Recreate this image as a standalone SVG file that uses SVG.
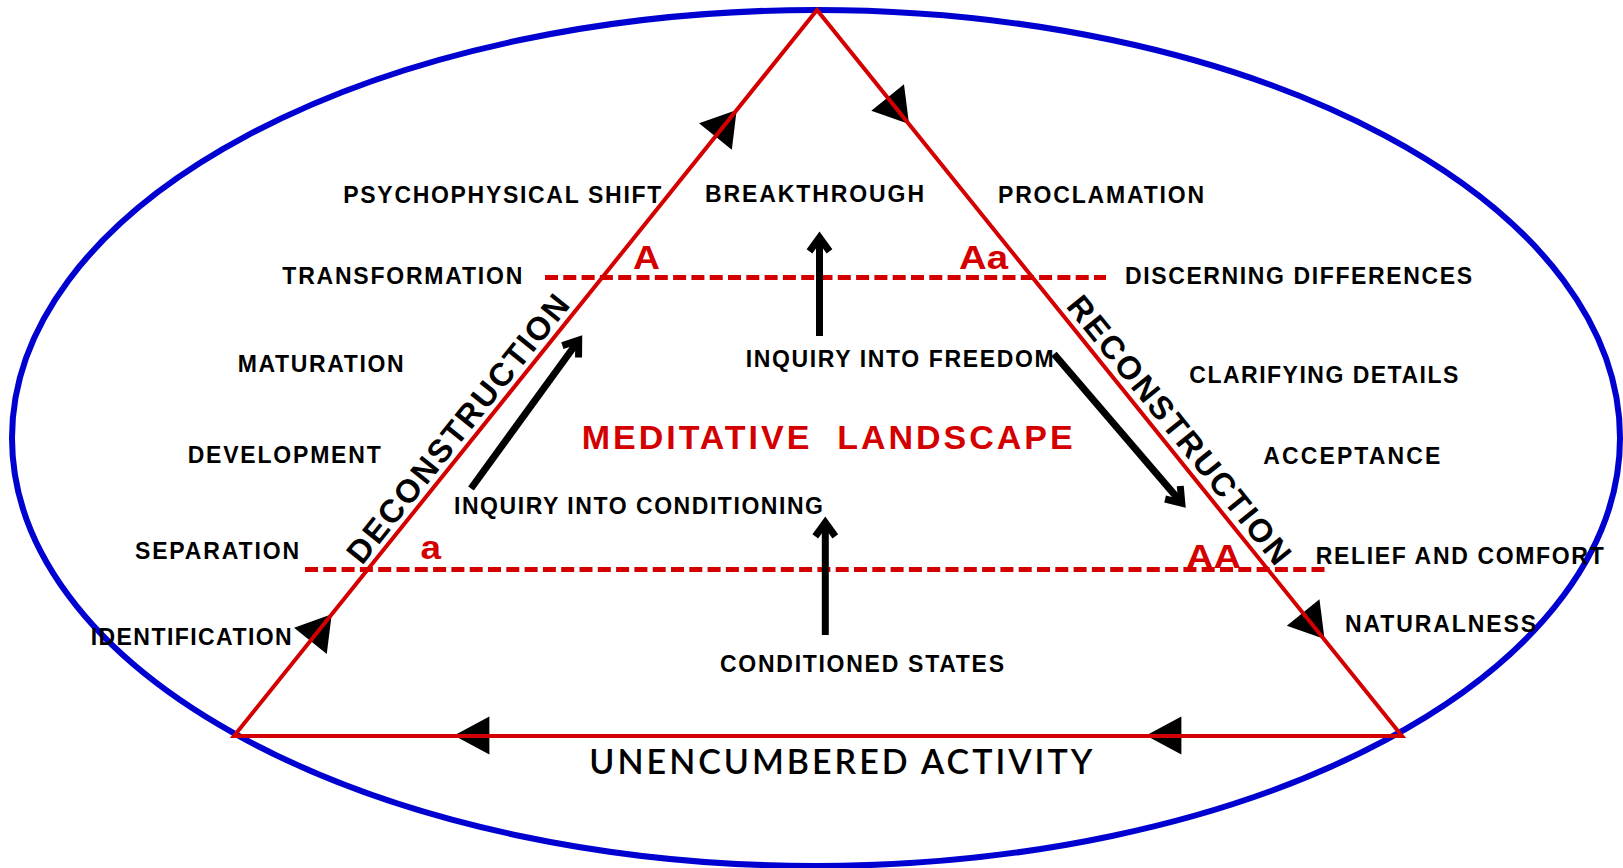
<svg xmlns="http://www.w3.org/2000/svg" width="1623" height="868" viewBox="0 0 1623 868">
<style>
.lbl{font-family:"Liberation Sans",Arial,sans-serif;font-weight:bold;font-size:23px;fill:#000}
.red{font-family:"Liberation Sans",Arial,sans-serif;font-weight:bold;font-size:34px;fill:#d40000}
.side{font-family:"Liberation Sans",Arial,sans-serif;font-weight:bold;font-size:32.5px;fill:#000}
.base{font-family:Lato,"Liberation Sans",sans-serif;font-weight:600;font-size:34px;fill:#000}
.tri{fill:none;stroke:#d40000;stroke-width:4;stroke-linejoin:miter}
.dash{stroke:#d40000;stroke-width:5;stroke-dasharray:13 5.3;fill:none}
.arr{stroke:#000;stroke-width:7;fill:none}
.head{fill:#000}
</style>
<defs>
<marker id="open" markerUnits="userSpaceOnUse" markerWidth="40" markerHeight="40" viewBox="-25 -20 40 40" refX="0" refY="0" orient="auto" overflow="visible">
<path d="M-14,-10 L0,0 L-14,10" fill="none" stroke="#000" stroke-width="7" stroke-linejoin="miter" stroke-miterlimit="10"/>
</marker>
<path id="tip" d="M0,0 L-34,-21 L-34,21 Z"/>
</defs>
<rect width="1623" height="868" fill="#fff"/>
<g id="landscape-ellipse">
<ellipse cx="816" cy="438" rx="804" ry="428" fill="none" stroke="#0000d0" stroke-width="6"/>
</g>
<g id="levels">
<line class="dash" x1="545" y1="277.5" x2="1106" y2="277.5"/>
<line class="dash" x1="305" y1="569.5" x2="1325" y2="569.5"/>
</g>
<g id="cycle">
<use href="#tip" class="head" transform="translate(736.7,110) rotate(-51.24)"/>
<use href="#tip" class="head" transform="translate(331.7,614.3) rotate(-51.24)"/>
<use href="#tip" class="head" transform="translate(909,124) rotate(51.1)"/>
<use href="#tip" class="head" transform="translate(1324.5,639) rotate(51.1)"/>
<use href="#tip" class="head" transform="translate(454,735.5) rotate(180) scale(1.04,0.9)"/>
<use href="#tip" class="head" transform="translate(1146,735.5) rotate(180) scale(1.04,0.9)"/>
<polygon class="tri" points="234,736 817,10 1402,736"/>
</g>
<g id="connectors">
<line class="arr" x1="471" y1="488.5" x2="578.7" y2="340.2" marker-end="url(#open)"/>
<line class="arr" x1="1054" y1="354" x2="1181.8" y2="503.1" marker-end="url(#open)"/>
<line class="arr" x1="819.5" y1="336" x2="819.5" y2="237.4" marker-end="url(#open)"/>
<line class="arr" x1="825.3" y1="635" x2="825.3" y2="522.4" marker-end="url(#open)"/>
</g>
<g id="n-psychophysical"><text class="lbl" x="343.3" y="203.3" textLength="318" lengthAdjust="spacing">PSYCHOPHYSICAL SHIFT</text></g>
<g id="n-breakthrough"><text class="lbl" x="705" y="201.7" textLength="219" lengthAdjust="spacing">BREAKTHROUGH</text></g>
<g id="n-proclamation"><text class="lbl" x="998" y="203.3" textLength="206" lengthAdjust="spacing">PROCLAMATION</text></g>
<g id="n-transformation"><text class="lbl" x="282.3" y="284.3" textLength="240" lengthAdjust="spacing">TRANSFORMATION</text></g>
<g id="n-A"><text class="red" x="633" y="269.3" textLength="27" lengthAdjust="spacingAndGlyphs">A</text></g>
<g id="n-Aa"><text class="red" x="959" y="269.3" textLength="49" lengthAdjust="spacingAndGlyphs">Aa</text></g>
<g id="n-discerning"><text class="lbl" x="1125" y="284" textLength="347" lengthAdjust="spacing">DISCERNING DIFFERENCES</text></g>
<g id="n-freedom"><text class="lbl" x="745.7" y="366.7" textLength="308" lengthAdjust="spacing">INQUIRY INTO FREEDOM</text></g>
<g id="n-maturation"><text class="lbl" x="237.7" y="371.7" textLength="166" lengthAdjust="spacing">MATURATION</text></g>
<g id="n-clarifying"><text class="lbl" x="1189.3" y="382.7" textLength="269" lengthAdjust="spacing">CLARIFYING DETAILS</text></g>
<g id="n-meditative"><text class="red" x="581.7" y="449.3" textLength="491" lengthAdjust="spacing" xml:space="preserve">MEDITATIVE  LANDSCAPE</text></g>
<g id="n-development"><text class="lbl" x="187.7" y="463.3" textLength="193" lengthAdjust="spacing">DEVELOPMENT</text></g>
<g id="n-acceptance"><text class="lbl" x="1263.3" y="464.3" textLength="177" lengthAdjust="spacing">ACCEPTANCE</text></g>
<g id="n-conditioning"><text class="lbl" x="454" y="514" textLength="369" lengthAdjust="spacing">INQUIRY INTO CONDITIONING</text></g>
<g id="n-separation"><text class="lbl" x="135" y="559.3" textLength="164" lengthAdjust="spacing">SEPARATION</text></g>
<g id="n-a"><text class="red" x="420.5" y="559.3" textLength="20.5" lengthAdjust="spacingAndGlyphs">a</text></g>
<g id="n-AA"><text class="red" x="1186" y="568.3" textLength="55" lengthAdjust="spacingAndGlyphs">AA</text></g>
<g id="n-relief"><text class="lbl" x="1315.7" y="564.3" textLength="288" lengthAdjust="spacing">RELIEF AND COMFORT</text></g>
<g id="n-identification"><text class="lbl" x="90.7" y="645" textLength="201" lengthAdjust="spacing">IDENTIFICATION</text></g>
<g id="n-naturalness"><text class="lbl" x="1345" y="631.7" textLength="191" lengthAdjust="spacing">NATURALNESS</text></g>
<g id="n-conditioned"><text class="lbl" x="720" y="671.7" textLength="284" lengthAdjust="spacing">CONDITIONED STATES</text></g>
<g id="n-unencumbered"><text class="base" x="589.3" y="774" textLength="503" lengthAdjust="spacing">UNENCUMBERED ACTIVITY</text></g>
<g id="n-deconstruction"><text class="side" transform="translate(362,566) rotate(-51.24)" x="0" y="0" textLength="334" lengthAdjust="spacing">DECONSTRUCTION</text></g>
<g id="n-reconstruction"><text class="side" transform="translate(1065.3,306.6) rotate(51.1)" x="0" y="0" textLength="335" lengthAdjust="spacing">RECONSTRUCTION</text></g>
</svg>
